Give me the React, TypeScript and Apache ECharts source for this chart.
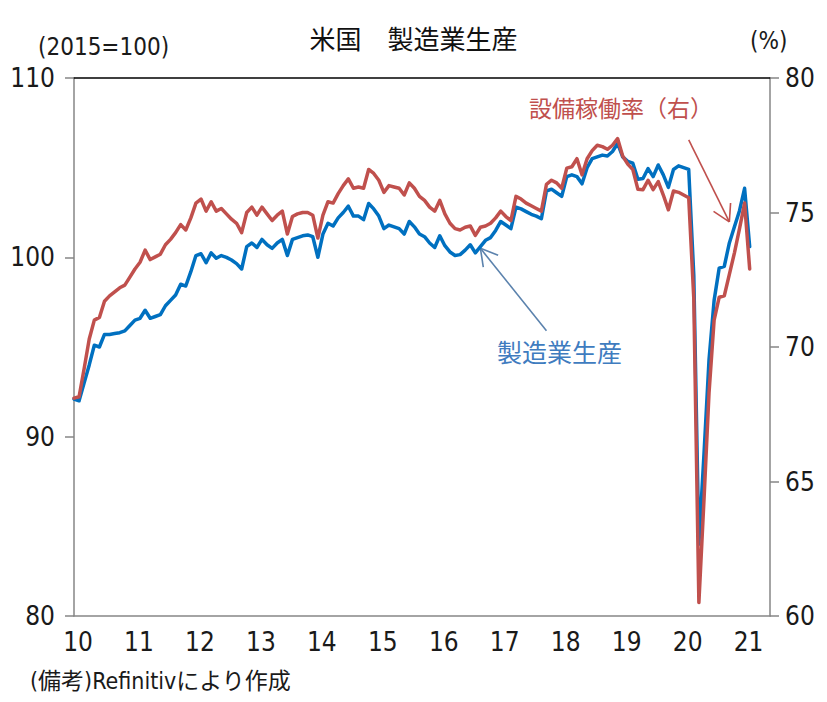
import React, { useEffect, useRef } from "react";
import * as echarts from "echarts";

// ---- Data (monthly, Jan 2010 .. Feb 2021) ----
const startYear = 2010;
const axisMonthCount = 138; // axis spans Jan 2010 .. Jun 2021
const months: string[] = Array.from(
  { length: axisMonthCount },
  (_, i) => `${startYear + Math.floor(i / 12)}-${String((i % 12) + 1).padStart(2, "0")}`
);
const yearLabels = ["10", "11", "12", "13", "14", "15", "16", "17", "18", "19", "20", "21"];

// 製造業生産 (2015=100, left axis)
const productionIndex = [
  92.1, 92.0, 93.0, 94.0, 95.1, 95.0, 95.7, 95.7, 95.75, 95.8, 95.9, 96.2,
  96.5, 96.6, 97.05, 96.6, 96.7, 96.8, 97.3, 97.6, 97.9, 98.5, 98.4, 99.2,
  100.1, 100.2, 99.7, 100.25, 99.95, 100.1, 100.0, 99.85, 99.65, 99.35, 100.6, 100.8,
  100.55, 101.0, 100.7, 100.5, 100.8, 101.0, 100.1, 101.0, 101.1, 101.2, 101.25, 101.15,
  100.0, 101.3, 101.9, 101.75, 102.2, 102.5, 102.85, 102.3, 102.3, 102.1, 103.0, 102.7,
  102.3, 101.6, 101.8, 101.7, 101.6, 101.3, 102.0, 101.7, 101.3, 101.15, 100.8, 100.55,
  101.2, 100.65, 100.3, 100.1, 100.15, 100.4, 100.7, 100.25, 100.6, 100.95, 101.1, 101.5,
  102.0, 101.8, 101.6, 102.8, 102.7, 102.55, 102.4, 102.3, 102.15, 103.7, 103.8, 103.6,
  103.4, 104.5, 104.6, 104.5, 104.1, 105.0, 105.5, 105.6, 105.7, 105.65, 105.9, 106.35,
  105.6, 105.35, 105.25, 104.35, 104.4, 104.95, 104.5, 105.15, 104.6, 103.9, 104.9, 105.1,
  105.0, 104.9, 99.0, 84.0, 89.0, 94.3, 97.6, 99.4, 99.5, 100.8, 101.7, 102.6,
  103.85, 100.6,
];

// 設備稼働率 (%, right axis)
const capacityUtilization = [
  68.1, 68.15, 69.2, 70.3, 71.0, 71.1, 71.7, 71.9, 72.05, 72.2, 72.3, 72.6,
  72.9, 73.15, 73.6, 73.25, 73.35, 73.45, 73.8, 74.0, 74.25, 74.55, 74.35, 74.8,
  75.35, 75.5, 75.05, 75.4, 75.05, 75.15, 74.95, 74.75, 74.6, 74.25, 75.0, 75.2,
  74.9, 75.2, 74.95, 74.7, 74.9, 75.05, 74.2, 74.85, 74.95, 75.0, 75.0, 74.9,
  74.05, 74.9, 75.4, 75.35, 75.7, 76.0, 76.25, 75.9, 75.95, 75.9, 76.6, 76.45,
  76.2, 75.75, 76.0, 75.95, 75.9, 75.65, 76.1, 75.9, 75.6, 75.45, 75.2, 75.05,
  75.45, 74.95, 74.6, 74.4, 74.35, 74.45, 74.5, 74.15, 74.45, 74.5, 74.6, 74.8,
  75.05, 74.85, 74.7, 75.6, 75.5, 75.35, 75.25, 75.15, 75.05, 76.05, 76.2, 76.1,
  75.9, 76.65, 76.7, 77.0, 76.4, 77.0, 77.3, 77.5, 77.45, 77.35, 77.5, 77.75,
  77.1, 76.8, 76.6, 75.86, 75.85, 76.2, 75.85, 76.15, 75.65, 75.1, 75.8, 75.75,
  75.65, 75.55, 71.8, 60.5, 64.3, 68.3, 71.0, 71.85, 71.9, 72.7, 73.5, 74.4,
  75.35, 72.9,
];

// Annotation arrows in data coordinates: [monthIndex, value]
const productionArrow = { tail: [92.7, 95.9], tip: [79.9, 100.5] }; // left axis
const utilizationArrow = { tail: [120.9, 77.7], tip: [128.7, 74.65] }; // right axis

const NARROW = "'Liberation Sans Narrow', 'Arial Narrow', 'DejaVu Sans Condensed', 'Noto Sans CJK JP', sans-serif";
const CJK = "'Noto Sans CJK JP', 'Noto Sans', sans-serif";
const BLUE = "#0070C0";
const RED = "#C0504D";
const AXIS_GRAY = "#868686";
const TEXT = "#1a1a1a";

function arrowElems(tail: number[], tip: number[], color: string) {
  const dx = tail[0] - tip[0];
  const dy = tail[1] - tip[1];
  const len = Math.sqrt(dx * dx + dy * dy) || 1;
  const ux = dx / len;
  const uy = dy / len;
  const head = 19;
  const ang = (30 * Math.PI) / 180;
  const rot = (a: number) => [ux * Math.cos(a) - uy * Math.sin(a), ux * Math.sin(a) + uy * Math.cos(a)];
  const h1 = rot(ang);
  const h2 = rot(-ang);
  const style = { stroke: color, lineWidth: 1.6 };
  return [
    { type: "line", silent: true, shape: { x1: tail[0], y1: tail[1], x2: tip[0], y2: tip[1] }, style },
    { type: "line", silent: true, shape: { x1: tip[0], y1: tip[1], x2: tip[0] + h1[0] * head, y2: tip[1] + h1[1] * head }, style },
    { type: "line", silent: true, shape: { x1: tip[0], y1: tip[1], x2: tip[0] + h2[0] * head, y2: tip[1] + h2[1] * head }, style },
  ];
}

export default function App() {
  const ref = useRef<HTMLDivElement>(null);

  useEffect(() => {
    if (!ref.current) return;
    const chart = echarts.init(ref.current, undefined, { renderer: "svg" });

    const axisLabelStyle = { fontSize: 26, color: TEXT, fontFamily: NARROW };

    chart.setOption({
      animation: false,
      backgroundColor: "#ffffff",
      title: {
        text: "米国　製造業生産",
        left: "center",
        top: 19,
        textStyle: { fontSize: 26, fontWeight: "normal", color: "#111", fontFamily: CJK },
      },
      grid: { left: 74, right: 57, top: 78, bottom: 86, containLabel: false },
      xAxis: [
        {
          type: "category",
          data: months,
          boundaryGap: false,
          position: "bottom",
          axisLine: { show: true, lineStyle: { color: AXIS_GRAY, width: 1.5 } },
          axisTick: { show: false },
          axisLabel: {
            ...axisLabelStyle,
            interval: 11,
            margin: 13,
            padding: [0, 0, 0, 8],
            formatter: (_v: string, idx: number) => yearLabels[idx / 12] ?? "",
          },
          splitLine: { show: false },
        },
        {
          type: "category",
          data: months,
          boundaryGap: false,
          position: "top",
          axisLine: { show: true, lineStyle: { color: "#000", width: 1.5 } },
          axisTick: { show: false },
          axisLabel: { show: false },
          splitLine: { show: false },
        },
      ],
      yAxis: [
        {
          type: "value",
          min: 80,
          max: 110,
          interval: 10,
          position: "left",
          axisLine: { show: true, lineStyle: { color: AXIS_GRAY, width: 1.5 } },
          axisTick: { show: true, inside: false, length: 9, lineStyle: { color: AXIS_GRAY, width: 1.5 } },
          axisLabel: { ...axisLabelStyle, margin: 19 },
          splitLine: { show: false },
        },
        {
          type: "value",
          min: 60,
          max: 80,
          interval: 5,
          position: "right",
          axisLine: { show: true, lineStyle: { color: AXIS_GRAY, width: 1.5 } },
          axisTick: { show: true, inside: false, length: 9, lineStyle: { color: AXIS_GRAY, width: 1.5 } },
          axisLabel: { ...axisLabelStyle, margin: 15 },
          splitLine: { show: false },
        },
      ],
      series: [
        {
          name: "製造業生産",
          type: "line",
          xAxisIndex: 0,
          yAxisIndex: 0,
          data: productionIndex,
          symbol: "none",
          showSymbol: false,
          lineStyle: { color: BLUE, width: 3.5, join: "round", cap: "round" },
          z: 2,
        },
        {
          name: "設備稼働率",
          type: "line",
          xAxisIndex: 0,
          yAxisIndex: 1,
          data: capacityUtilization,
          symbol: "none",
          showSymbol: false,
          lineStyle: { color: RED, width: 3.5, join: "round", cap: "round" },
          z: 3,
        },
      ],
    });

    const px = (yAxisIndex: number, p: number[]) =>
      chart.convertToPixel({ xAxisIndex: 0, yAxisIndex }, p) as number[];

    const graphics: any[] = [
      {
        type: "text",
        left: 38,
        top: 35,
        style: { text: "(2015=100)", fontSize: 24, fill: TEXT, fontFamily: NARROW },
      },
      {
        type: "text",
        left: 750,
        top: 29,
        style: { text: "(%)", fontSize: 24, fill: TEXT, fontFamily: NARROW },
      },
      {
        type: "text",
        left: 30,
        top: 669,
        style: { text: "(備考)Refinitivにより作成", fontSize: 23, fill: TEXT, fontFamily: NARROW },
      },
      {
        type: "text",
        left: 529,
        top: 95,
        style: { text: "設備稼働率（右）", fontSize: 23, fill: RED, fontFamily: CJK },
      },
      {
        type: "text",
        left: 497,
        top: 338,
        style: { text: "製造業生産", fontSize: 25, fill: "#3f7cbf", fontFamily: CJK },
      },
      ...arrowElems(px(1, utilizationArrow.tail), px(1, utilizationArrow.tip), RED),
      ...arrowElems(px(0, productionArrow.tail), px(0, productionArrow.tip), "#5b82ad"),
    ];
    chart.setOption({ graphic: graphics });

    return () => chart.dispose();
  }, []);

  return (
    <div
      ref={ref}
      style={{ position: "fixed", left: 0, top: 0, width: 827, height: 702, background: "#fff" }}
    />
  );
}
